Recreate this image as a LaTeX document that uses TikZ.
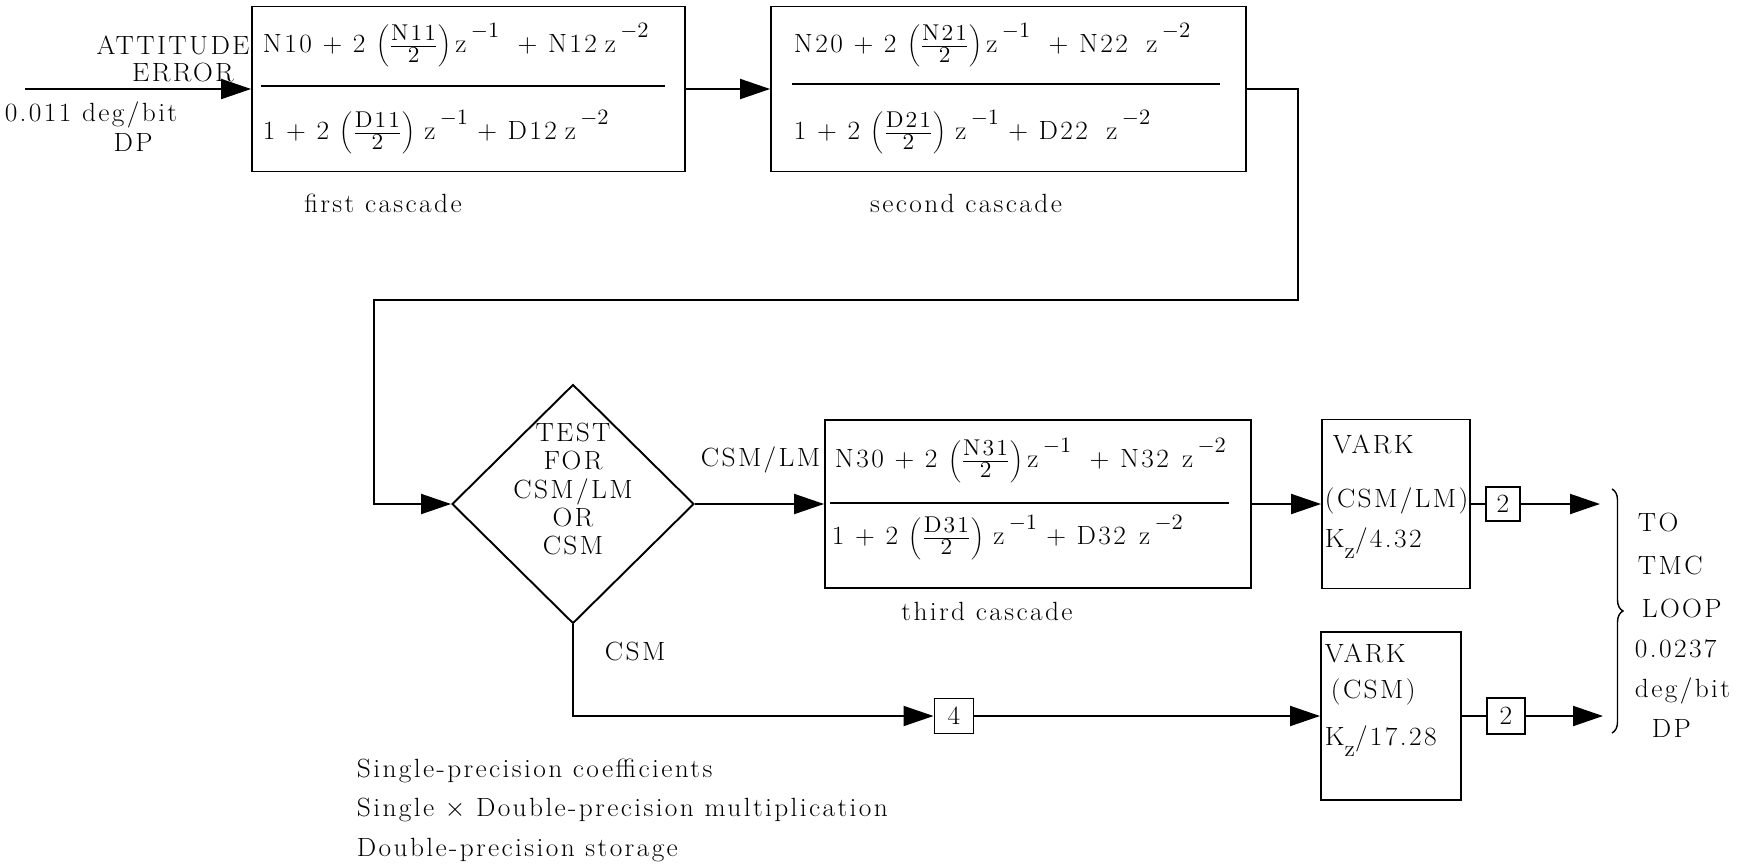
\RequirePackage{fix-cm}
\documentclass[tikz,border=0pt]{standalone}
\usepackage{fontspec}
\setmainfont{Latin Modern Roman}[FakeStretch=1.04,LetterSpace=9]
\usetikzlibrary{arrows.meta,shapes.geometric,decorations.pathreplacing}
\newcommand{\smallsz}{\fontsize{12.5}{12.5}\selectfont}
\newcommand{\fracsz}{\fontsize{13}{13}\selectfont}
\newcommand{\ex}[1]{\raisebox{0.6em}{\smallsz$-$#1}}
\newcommand{\pfr}[1]{$\left(\frac{\hbox{\fracsz\rule[-2.5pt]{0pt}{9pt}#1}}{\hbox{\fracsz\rule[-2pt]{0pt}{10pt}2}}\right)$}
% #4 = extra gap before the last z
\newcommand{\numer}[4]{#1 + 2 \pfr{#2}\,z\,\ex{1}\hspace{0.7em}+ #3\hspace{#4}z\,\ex{2}}
\newcommand{\denom}[3]{1 + 2 \pfr{#1}\hspace{0.35em}z\,\ex{1}\hspace{0.35em}+ #2\hspace{#3}z\,\ex{2}}
\newcommand{\kz}{K\raisebox{-0.4em}{\fontsize{13}{13}\selectfont z}}
\begin{document}
\begin{tikzpicture}[x=0.02cm,y=-0.02cm,
  font=\fontsize{15}{18}\selectfont,
  line width=1.1pt,
  arr/.style={-{Triangle[length=0.6cm,width=0.4cm]}},
  blk/.style={draw,line width=1.1pt,inner sep=0pt},
  lbl/.style={inner sep=0pt},
  bar/.style={line width=1.1pt},
]
\useasboundingbox (0,0) rectangle (1755,866);

% cascade boxes
\node[blk,minimum width=8.66cm,minimum height=3.3cm] (c1) at (468.5,89) {};
\node[blk,minimum width=9.5cm,minimum height=3.3cm] (c2) at (1008.5,89) {};
\node[blk,minimum width=8.52cm,minimum height=3.36cm] (c3) at (1038,504) {};

% numerators / denominators
\node[lbl,anchor=west] (n1) at (262,45) {\numer{N10}{N11}{N12}{0.3em}};
\node[lbl,anchor=west] (d1) at (262,132) {\denom{D11}{D12}{0.3em}};
\draw[bar] (261,86) -- (665,86);

\node[lbl,anchor=west] (n2) at (793,45) {\numer{N20}{N21}{N22}{0.7em}};
\node[lbl,anchor=west] (d2) at (793,132) {\denom{D21}{D22}{0.7em}};
\draw[bar] (792,84) -- (1220,84);

\node[lbl,anchor=west] (n3) at (834,460) {\numer{N30}{N31}{N32}{0.5em}};
\node[lbl,anchor=west] (d3) at (831,537) {\denom{D31}{D32}{0.5em}};
\draw[bar] (830,503) -- (1229,503);

% captions
\node[lbl] (cap1) at (383,203) {first cascade};
\node[lbl] (cap2) at (966,203) {second cascade};
\node[lbl] (cap3) at (987,611) {third cascade};

% input labels
\node[lbl] (att) at (173,45) {ATTITUDE};
\node[lbl] (err) at (183,72) {ERROR};
\node[lbl] (scl) at (91,115) {0.011 deg/bit};
\node[lbl] (dp1) at (133,142) {DP};
\coordinate (in) at (25,89);

% decision
\node[draw,diamond,minimum width=4.84cm,minimum height=4.78cm,inner sep=0pt,line width=1.1pt] (test) at (573,504) {};
\node[lbl,align=center,font=\fontsize{15}{16}\selectfont] (testtxt) at (573,489) {TEST\\FOR\\CSM/LM\\OR\\CSM};
\node[lbl,anchor=west] (lcsmlm) at (700,460) {CSM/LM};
\node[lbl,anchor=west] (lcsm) at (604,651) {CSM};

% VARK boxes
\node[blk,minimum width=2.96cm,minimum height=3.38cm] (v1) at (1396,504) {};
\node[lbl,anchor=west] (v1a) at (1332,444) {VARK};
\node[lbl,anchor=west] (v1b) at (1324,501) {(CSM/LM)};
\node[lbl,anchor=west] (v1c) at (1324,543) {\kz/4.32};

\node[blk,minimum width=2.8cm,minimum height=3.36cm] (v2) at (1391,716) {};
\node[lbl,anchor=west] (v2a) at (1324,653) {VARK};
\node[lbl,anchor=west] (v2b) at (1330,692) {(CSM)};
\node[lbl,anchor=west] (v2c) at (1324,741) {\kz/17.28};

% small gain boxes
\node[blk,minimum width=0.68cm,minimum height=0.68cm] (t1) at (1503,504) {2};
\node[blk,minimum width=0.76cm,minimum height=0.72cm] (t2) at (1506,716) {2};
\node[blk,minimum width=0.78cm,minimum height=0.7cm] (f4) at (954,716) {4};
\coordinate (o1) at (1600,504);
\coordinate (o2) at (1603,716);

% connectors
\draw[arr] (in) -- (c1.west);
\draw[arr] (c1.east) -- (c2.west);
\draw[arr] (c2.east) -| (1298,300) -| (374,504) -- (test.west);
\draw[arr] (test.east) -- (c3.west);
\draw[arr] (c3.east) -- (v1.west);
\draw (v1.east) -- (t1.west);
\draw[arr] (t1.east) -- (o1);
\draw[arr] (test.south) |- (f4.west);
\draw[arr] (f4.east) -- (v2.west);
\draw (v2.east) -- (t2.west);
\draw[arr] (t2.east) -- (o2);

% brace and output text
\draw[decorate,decoration={brace,amplitude=0.22cm},line width=0.8pt] (1612,489) -- (1612,733);
\node[lbl,anchor=west] (r1) at (1637,522) {TO};
\node[lbl,anchor=west] (r2) at (1637,565) {TMC};
\node[lbl,anchor=west] (r3) at (1641,608) {LOOP};
\node[lbl,anchor=west] (r4) at (1634,649) {0.0237};
\node[lbl,anchor=west] (r5) at (1634,691) {deg/bit};
\node[lbl,anchor=west] (r6) at (1651,728) {DP};

% notes
\node[lbl,anchor=west] (note1) at (356,771) {Single-precision coefficients};
\node[lbl,anchor=west] (note2) at (356,810) {Single $\times$ Double-precision multiplication};
\node[lbl,anchor=west] (note3) at (356,850) {Double-precision storage};
\end{tikzpicture}
\end{document}
